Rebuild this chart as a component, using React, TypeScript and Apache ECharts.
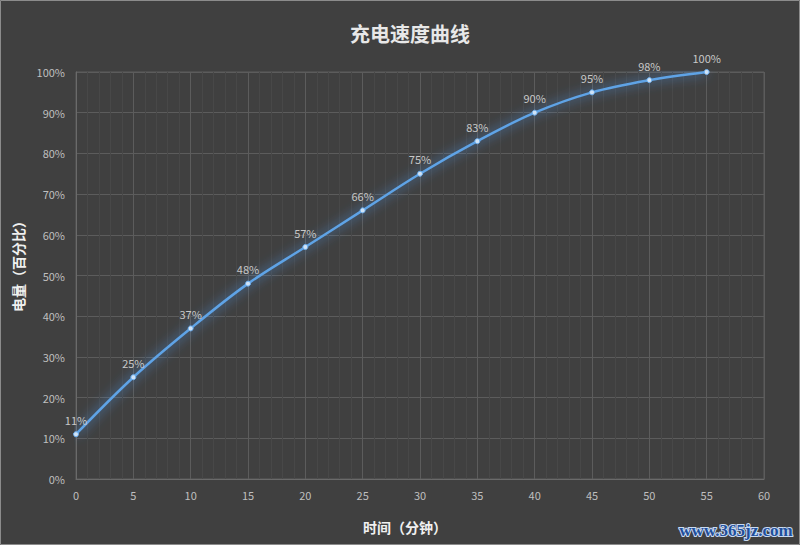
import React, { useEffect, useRef } from "react";
import * as echarts from "echarts";

const titleText = "充电速度曲线";
const xAxisName = "时间（分钟）";
const yAxisName = "电量（百分比）";
const minutes = [0, 5, 10, 15, 20, 25, 30, 35, 40, 45, 50, 55];
const battery = [11, 25, 37, 48, 57, 66, 75, 83, 90, 95, 98, 100];
const watermark = "www.365jz.com";

export default function App() {
  const ref = useRef<HTMLDivElement>(null);
  useEffect(() => {
    document.body.style.margin = "0";
    const chart = echarts.init(ref.current!, null, { renderer: "svg" });
    const font = "'Noto Sans CJK SC', 'Noto Sans', sans-serif";
    chart.setOption({
      animation: false,
      backgroundColor: "#404040",
      grid: {
        left: 76,
        right: 36,
        top: 72,
        bottom: 66,
        show: true,
        borderColor: "#5c5c5c",
        borderWidth: 1,
      },
      xAxis: {
        type: "value",
        min: 0,
        max: 60,
        interval: 5,
        minorTick: { show: false, splitNumber: 5 },
        minorSplitLine: { show: true, lineStyle: { color: "#484848", width: 1 } },
        splitLine: { show: true, lineStyle: { color: "#5c5c5c", width: 1 } },
        axisLine: { show: true, lineStyle: { color: "#6a6a6a" } },
        axisTick: { show: false },
        axisLabel: { color: "#bfbfbf", fontSize: 11, margin: 10, fontFamily: font },
      },
      yAxis: {
        type: "value",
        min: 0,
        max: 100,
        interval: 10,
        splitLine: { show: true, lineStyle: { color: "#5c5c5c", width: 1 } },
        axisLine: { show: true, lineStyle: { color: "#6a6a6a" } },
        axisTick: { show: false },
        axisLabel: { color: "#bfbfbf", fontSize: 11, margin: 11, formatter: "{value}%", fontFamily: font },
      },
      series: [
        {
          type: "line",
          smooth: 0.35,
          data: minutes.map((m, i) => [m, battery[i]]),
          symbol: "circle",
          symbolSize: 5,
          itemStyle: { color: "#cfe3f7", borderColor: "#6aaef0", borderWidth: 1 },
          lineStyle: {
            color: "#5ea3e6",
            width: 2.5,
            shadowColor: "rgba(80,160,255,0.95)",
            shadowBlur: 12,
          },
          label: {
            show: true,
            position: "top",
            distance: 6,
            color: "#c8c8c8",
            fontSize: 11,
            fontFamily: font,
            formatter: (p: any) => p.value[1] + "%",
          },
        },
      ],
      graphic: [
        {
          type: "text",
          x: 410,
          y: 33,
          style: {
            text: titleText,
            fill: "#e8e8e8",
            font: "bold 20px " + font,
            align: "center",
            verticalAlign: "middle",
          },
        },
        {
          type: "text",
          rotation: Math.PI / 2,
          x: 18,
          y: 263,
          style: {
            text: yAxisName,
            fill: "#f0f0f0",
            font: "bold 14px " + font,
            align: "center",
            verticalAlign: "middle",
          },
        },
        {
          type: "text",
          x: 405,
          y: 527,
          style: {
            text: xAxisName,
            fill: "#f0f0f0",
            font: "bold 14px " + font,
            align: "center",
            verticalAlign: "middle",
          },
        },
        {
          type: "text",
          x: 736,
          y: 530,
          style: {
            text: watermark,
            fill: "#1f4f9c",
            stroke: "#c9dbf2",
            lineWidth: 2,
            font: "bold 17px 'Liberation Serif', serif",
            align: "center",
            verticalAlign: "middle",
          },
        },
        {
          type: "rect",
          shape: { x: 0.5, y: 0.5, width: 799, height: 544 },
          style: { fill: "none", stroke: "#8c8c8c", lineWidth: 1 },
          silent: true,
        },
      ],
    });
    return () => chart.dispose();
  }, []);
  return <div ref={ref} style={{ width: 800, height: 545 }} />;
}
